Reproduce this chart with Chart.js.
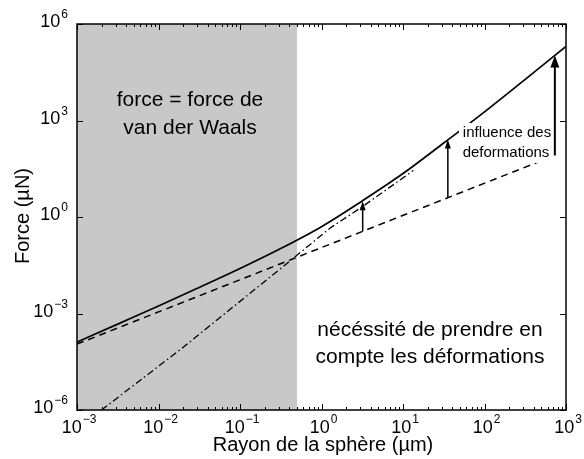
<!DOCTYPE html>
<html>
<head>
<meta charset="utf-8">
<script src="https://cdn.jsdelivr.net/npm/chart.js@4"></script>
<style>body{margin:0;background:#fff}</style>
</head>
<body>
<canvas id="graphe" width="584" height="459"></canvas>
<script>
// rayon de la sphere (um) / force totale (uN), trait plein
var rayon = [0.001, 0.00316, 0.01, 0.0316, 0.1, 0.316, 1, 3.16, 10, 31.6, 100, 316, 1000];
var forceTotale = [1.29e-4, 4.68e-4, 1.70e-3, 6.46e-3, 0.0251, 0.105, 0.501, 3.16, 22.4, 200, 1862, 19050, 199500];
// force de van der Waals seule (tirets)
var rayonVdw = [0.001, 730];
var forceVdw = [1.12e-4, 81.8];
// asymptote deformations (tiret-point)
var rayonDef = [0.002, 0.0194, 0.414, 1.27, 3.26, 8.4, 13.4];
var forceDef = [1.0e-6, 8.3e-5, 0.0437, 0.45, 2.2, 12.0, 28];
// fleches "influence des deformations"
var flecheRayon = [3.2, 35.5, 730];
var flecheBas = [0.358, 3.98, 81.8];
var flecheHaut = [3.1, 255, 105000];
// zone grise : force = vdW
var limiteVdw = 0.5;
// graduations
var xTicks = [1e-3, 1e-2, 1e-1, 1, 10, 100, 1000];
var xExposants = ['\u22123', '\u22122', '\u22121', '0', '1', '2', '3'];
var yTicks = [1e-6, 1e-3, 1, 1e3, 1e6];
var yExposants = ['\u22126', '\u22123', '0', '3', '6'];

var police = '"Liberation Sans", Arial, sans-serif';

function points(xs, ys) {
    var res = [];
    for (var i = 0; i < xs.length; i++) {
        res.push({x: xs[i], y: ys[i]});
    }
    return res;
}

function puissance(ctx, exp, x, y, align) {
    ctx.font = '18px ' + police;
    var wb = ctx.measureText('10').width;
    ctx.font = '12px ' + police;
    var we = ctx.measureText(exp).width;
    var total = wb + 1 + we;
    var x0 = (align === 'right') ? x - total : x - total / 2;
    ctx.textAlign = 'left';
    ctx.textBaseline = 'middle';
    ctx.font = '18px ' + police;
    ctx.fillText('10', x0, y);
    ctx.font = '12px ' + police;
    ctx.fillText(exp, x0 + wb + 1, y - 8);
}

function fleche(ctx, x, yb, yh, tete, larg, epais) {
    ctx.lineWidth = epais;
    ctx.beginPath();
    ctx.moveTo(x, yb);
    ctx.lineTo(x, yh + tete - 1);
    ctx.stroke();
    ctx.beginPath();
    ctx.moveTo(x, yh);
    ctx.lineTo(x - larg, yh + tete);
    ctx.lineTo(x + larg, yh + tete);
    ctx.closePath();
    ctx.fill();
}

var decor = {
    id: 'decor',
    beforeDatasetsDraw: function (chart) {
        var ctx = chart.ctx, a = chart.chartArea;
        var xr = chart.scales.x.getPixelForValue(limiteVdw);
        ctx.save();
        ctx.fillStyle = '#c8c8c8';
        ctx.fillRect(a.left, a.top, xr - a.left, a.bottom - a.top);
        ctx.restore();
    },
    afterDatasetsDraw: function (chart) {
        var ctx = chart.ctx, a = chart.chartArea;
        var sx = chart.scales.x, sy = chart.scales.y;
        ctx.save();
        ctx.fillStyle = '#000';
        ctx.strokeStyle = '#000';

        // textes
        ctx.textAlign = 'center';
        ctx.textBaseline = 'middle';
        ctx.font = '21px ' + police;
        ctx.fillText('force = force de', 190, 100);
        ctx.fillText('van der Waals', 190, 128);
        ctx.fillText('nécéssité de prendre en', 430, 330);
        ctx.fillText('compte les déformations', 430, 357);

        ctx.fillStyle = '#fff';
        ctx.fillRect(459, 123, 94, 40);
        ctx.fillStyle = '#000';
        ctx.font = '15px ' + police;
        ctx.fillText('influence des', 507, 133);
        ctx.fillText('deformations', 506, 153);

        // fleches
        for (var i = 0; i < flecheRayon.length; i++) {
            var px = sx.getPixelForValue(flecheRayon[i]);
            var grand = (i === 2);
            fleche(ctx, px, sy.getPixelForValue(flecheBas[i]), sy.getPixelForValue(flecheHaut[i]),
                grand ? 12 : 9, grand ? 4.5 : 3, grand ? 2 : 1.5);
        }

        // cadre
        ctx.lineWidth = 1.5;
        ctx.strokeRect(a.left, a.top, a.right - a.left, a.bottom - a.top);

        // graduations x
        ctx.lineWidth = 1;
        for (var d = 0; d < xTicks.length; d++) {
            for (var m = 1; m < 10; m++) {
                var v = xTicks[d] * m;
                if (v > 1000) break;
                var x = Math.round(sx.getPixelForValue(v)) + 0.5;
                var l = (m === 1) ? 6 : 3;
                ctx.beginPath();
                ctx.moveTo(x, a.bottom); ctx.lineTo(x, a.bottom - l);
                ctx.moveTo(x, a.top); ctx.lineTo(x, a.top + l);
                ctx.stroke();
            }
            puissance(ctx, xExposants[d], sx.getPixelForValue(xTicks[d]) + 2, 428, 'center');
        }
        // graduations y
        for (var k = 0; k < yTicks.length; k++) {
            var y = Math.round(sy.getPixelForValue(yTicks[k])) + 0.5;
            ctx.beginPath();
            ctx.moveTo(a.left, y); ctx.lineTo(a.left + 6, y);
            ctx.moveTo(a.right, y); ctx.lineTo(a.right - 6, y);
            ctx.stroke();
            puissance(ctx, yExposants[k], 68, y - 2, 'right');
        }

        // titres des axes
        ctx.textAlign = 'center';
        ctx.textBaseline = 'middle';
        ctx.font = '20px ' + police;
        ctx.fillText('Rayon de la sphère (µm)', 323, 445);
        ctx.translate(23, 216);
        ctx.rotate(-Math.PI / 2);
        ctx.fillText('Force (µN)', 0, 0);
        ctx.restore();
    }
};

// le premier jeu de donnees est dessine au-dessus
new Chart(document.getElementById('graphe'), {
    type: 'line',
    data: {
        datasets: [{
            label: 'force totale',
            data: points(rayon, forceTotale),
            borderColor: '#000',
            borderWidth: 1.7,
            pointRadius: 0,
            cubicInterpolationMode: 'monotone'
        }, {
            label: 'van der Waals',
            data: points(rayonVdw, forceVdw),
            borderColor: '#000',
            borderWidth: 1.5,
            borderDash: [7, 5],
            pointRadius: 0,
            tension: 0
        }, {
            label: 'deformation',
            data: points(rayonDef, forceDef),
            borderColor: '#000',
            borderWidth: 1.3,
            borderDash: [7, 3, 1.5, 3],
            pointRadius: 0,
            tension: 0
        }]
    },
    options: {
        responsive: false,
        animation: false,
        devicePixelRatio: 1,
        layout: {padding: {left: 77, top: 24, right: 18, bottom: 49}},
        plugins: {legend: {display: false}, tooltip: {enabled: false}},
        scales: {
            x: {type: 'logarithmic', min: 1e-3, max: 1e3, display: false},
            y: {type: 'logarithmic', min: 1e-6, max: 1e6, display: false}
        }
    },
    plugins: [decor]
});
</script>
</body>
</html>
